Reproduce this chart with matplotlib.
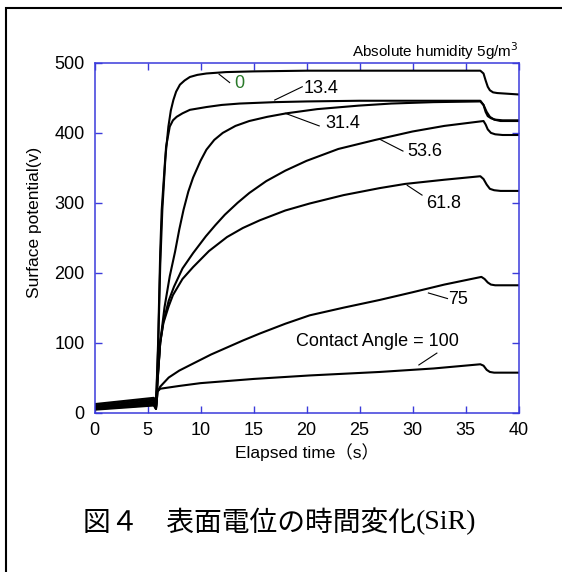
import matplotlib
matplotlib.use('Agg')
import matplotlib.pyplot as plt
from matplotlib.patches import Rectangle

# surface potential (V) against elapsed time (s), one curve per contact angle
t_ca0 = [0, 5.6, 5.8, 6.0, 6.2, 6.34, 6.66, 6.97, 7.2, 7.44, 7.7, 8.06, 8.5, 9.0, 9.7, 10.56, 12.4,
         15, 20, 25, 30, 36.4, 36.7, 36.9, 37.1, 37.3, 37.6, 38, 39, 40]
v_ca0 = [12, 21, 9, 100, 230, 290, 361, 409, 432, 447, 459, 469, 475, 480, 483, 485, 487,
         488, 489, 489, 489, 489, 485, 475, 466, 461, 458, 457, 456, 455]

t_ca13 = [0, 5.6, 5.8, 6.0, 6.2, 6.4, 6.75, 7.1, 7.4, 7.75, 8.3, 9.0, 10.56, 12, 13.7, 17, 20, 25,
          30, 36.4, 36.7, 36.9, 37.1, 37.4, 37.8, 38.5, 40]
v_ca13 = [10, 19, 8, 90, 210, 290, 380, 409, 418, 423, 428, 433, 437, 440, 442, 444, 445, 446,
          446, 446, 440, 430, 424, 421, 419, 418, 418]

t_ca31 = [0, 5.6, 5.8, 5.95, 6.2, 6.6, 7.1, 7.6, 8.0, 8.4, 8.85, 9.3, 10.0, 10.56, 11.3, 12.1,
          13.3, 14.6, 16.3, 18.1, 21, 24.9, 28, 32, 36.4, 36.7, 37.0, 37.3, 37.7, 38.3, 40]
v_ca31 = [8, 17, 8, 50, 100, 150, 195, 230, 262, 290, 316, 336, 360, 376, 390, 400,
          410, 417, 423, 428, 434, 439, 442, 444, 445, 440, 430, 423, 419, 417, 417]

t_ca53 = [0, 5.6, 5.8, 5.95, 6.2, 6.5, 7.0, 7.5, 8.3, 9.3, 10.5, 11.4, 12.3, 13.5, 14.6, 16.2, 18,
          20, 23, 26.5, 30, 33, 36.7, 36.9, 37.1, 37.4, 37.8, 38.5, 40]
v_ca53 = [7, 15, 7, 45, 100, 130, 160, 180, 206, 228, 252, 268, 283, 300, 314, 331, 346,
          360, 377, 390, 402, 410, 417, 412, 405, 400, 398, 397, 397]

t_ca61 = [0, 5.6, 5.8, 5.95, 6.2, 6.5, 7.0, 7.4, 8.3, 9.3, 10.8, 12.5, 14, 15.6, 18, 20.3, 23.5,
          26.9, 29.3, 33, 36.4, 36.7, 37.0, 37.3, 37.7, 38.3, 40]
v_ca61 = [6, 13, 6, 45, 100, 128, 152, 168, 191, 208, 231, 251, 264, 275, 289, 299, 311,
          321, 327, 333, 338, 334, 326, 320, 318, 317, 317]

t_ca75 = [0, 5.6, 5.8, 5.95, 6.2, 7.0, 8.0, 9.3, 11, 12.5, 14, 15.6, 18, 20.3, 23.5, 26.9, 30, 33,
          36.5, 36.8, 37.1, 37.4, 37.8, 38.5, 40]
v_ca75 = [5, 11, 5, 30, 37, 50, 60, 70, 83, 93, 103, 113, 127, 139, 150, 161, 172, 183,
          194, 191, 186, 183, 182, 182, 182]

t_ca100 = [0, 5.6, 5.8, 5.95, 6.2, 8, 10, 15, 20.3, 26.9, 32, 36.4, 36.7, 37.0, 37.3, 37.7, 38.5, 40]
v_ca100 = [4, 10, 5, 30, 34, 38, 42, 48, 53, 58, 63, 69, 67, 61, 58, 57, 57, 57]

curve_names = ['0', '13.4', '31.4', '53.6', '61.8', '75', 'Contact Angle = 100']
curve_times = [t_ca0, t_ca13, t_ca31, t_ca53, t_ca61, t_ca75, t_ca100]
curve_values = [v_ca0, v_ca13, v_ca31, v_ca53, v_ca61, v_ca75, v_ca100]

x_ticks = [0, 5, 10, 15, 20, 25, 30, 35, 40]
y_ticks = [0, 100, 200, 300, 400, 500]

# where each curve name sits and its leader line (data coords)
label_pos = [(13.7, 470), (21.4, 464), (23.4, 414), (31.2, 373), (32.9, 299), (34.3, 162), (26.7, 101)]
leader_start = [(11.75, 484), (17.0, 447), (18.0, 428), (26.9, 391), (29.5, 325), (31.5, 171), (30.6, 68)]
leader_end = [(12.75, 472), (19.6, 466), (21.2, 410), (29.1, 374), (30.9, 311), (33.3, 163), (32.3, 85)]
label_colors = ['#2a7a2a', 'black', 'black', 'black', 'black', 'black', 'black']

blue = '#3b3bdb'
plt.rcParams['font.family'] = ['Liberation Sans', 'DejaVu Sans']

W, H = 562, 572
fig = plt.figure(figsize=(W / 100, H / 100), dpi=100)
ax = fig.add_axes([94.5 / W, 1 - 412.5 / H, 424 / W, 349.5 / H])

for t, v in zip(curve_times, curve_values):
    ax.plot(t, v, color='black', lw=1.5, solid_joinstyle='round')

for name, pos, p0, p1, col in zip(curve_names, label_pos, leader_start, leader_end, label_colors):
    ax.plot([p0[0], p1[0]], [p0[1], p1[1]], color='black', lw=0.8)
    ax.text(pos[0], pos[1], name, fontsize=13, color=col, ha='center', va='center')

ax.set_xlim(0, 40)
ax.set_ylim(0, 500)
ax.set_xticks(x_ticks)
ax.set_yticks(y_ticks)
ax.tick_params(direction='in', length=5, width=1, color=blue, top=True, right=True,
               labelsize=13, pad=7)
for s in ax.spines.values():
    s.set_color(blue)
    s.set_linewidth(1.1)

ax.set_xlabel('Elapsed time（s）', fontsize=12.5, family=['Liberation Sans', 'Noto Sans CJK JP'],
              labelpad=3)
ax.set_ylabel('Surface potential(v)', fontsize=12.5)
ax.yaxis.set_label_coords(-0.125, 0.545)

ax.text(1.0, 1.035, 'Absolute humidity 5g/m$^3$', transform=ax.transAxes, ha='right', va='center',
        fontsize=11)

# caption: Japanese part in a CJK font, "(SiR)" in a serif font right after it
cap = fig.text(83 / W, 1 - 523 / H, '図４　表面電位の時間変化', fontsize=20,
               family=['Noto Sans CJK JP'], va='center')
fig.canvas.draw()
bb = cap.get_window_extent(fig.canvas.get_renderer())
fig.text(bb.x1 / W, 1 - 523 / H, '(SiR)', fontsize=20, family=['Liberation Serif'], va='center')

fig.add_artist(Rectangle((6 / W, -0.1), 1.2, 1.1 - 8 / H, transform=fig.transFigure,
                         fill=False, ec='black', lw=1.5))

fig.savefig('out.png', dpi=100)
